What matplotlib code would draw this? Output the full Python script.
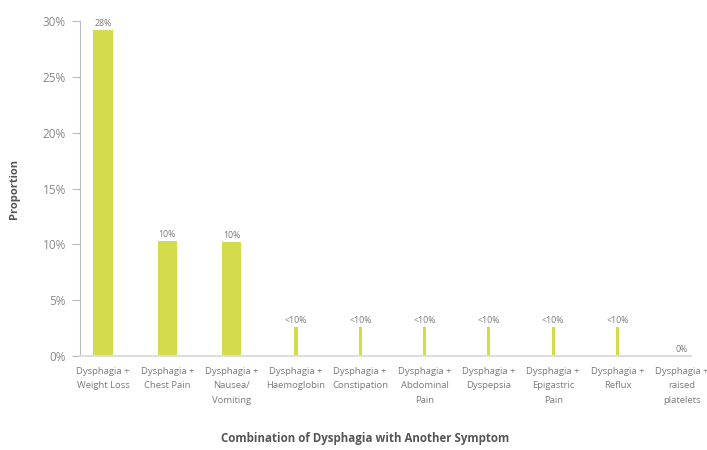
import numpy as np
import matplotlib.pyplot as plt

categories = ['Dysphagia +\nWeight Loss', 'Dysphagia +\nChest Pain', 'Dysphagia +\nNausea/\nVomiting',
              'Dysphagia +\nHaemoglobin', 'Dysphagia +\nConstipation', 'Dysphagia +\nAbdominal\nPain',
              'Dysphagia +\nDyspepsia', 'Dysphagia +\nEpigastric\nPain', 'Dysphagia +\nReflux',
              'Dysphagia +\nraised\nplatelets']
values = [29.2, 10.3, 10.2, 2.6, 2.6, 2.6, 2.6, 2.6, 2.6, 0.0]
labels = ['28%', '10%', '10%', '<10%', '<10%', '<10%', '<10%', '<10%', '<10%', '0%']
widths = [0.3, 0.3, 0.3, 0.05, 0.05, 0.05, 0.05, 0.05, 0.05, 0.05]

plt.rcParams['font.family'] = ['Open Sans', 'DejaVu Sans']
grey = '#7a7a7a'

fig = plt.figure(figsize=(7.07, 4.5), dpi=100)
ax = fig.add_axes([0.113, 0.209, 0.864, 0.744])
x = np.arange(len(categories))
ax.bar(x, values, width=widths, color='#d4dc4e')
for xi, v, lab in zip(x, values, labels):
    ax.text(xi, v + 0.2, lab, ha='center', va='bottom', fontsize=6.3, color=grey)

ax.set_xlim(-0.36, 9.14)
ax.set_ylim(0, 30)
ax.set_yticks(np.arange(0, 31, 5))
ax.set_yticklabels([f'{t}%' for t in range(0, 31, 5)], fontsize=8.5, color='#8a8a8a')
ax.set_xticks(x)
ax.set_xticklabels(categories, fontsize=6.8, color=grey, linespacing=1.75)
ax.tick_params(axis='x', length=0, pad=8)
ax.tick_params(axis='y', length=6, color='#bbbbbb', pad=4)
for s in ['top', 'right']:
    ax.spines[s].set_visible(False)
ax.spines['left'].set_color('#bbbbbb')
ax.spines['bottom'].set_color('#dddddd')
ax.spines['bottom'].set_linewidth(1.5)

fig.text(0.02, 0.58, 'Proportion', rotation=90, ha='center', va='center',
         fontsize=8, fontweight='bold', color='#555555')
fig.text(0.516, 0.012, 'Combination of Dysphagia with Another Symptom', ha='center', va='bottom',
         fontsize=8.3, fontweight='bold', color='#555555')

plt.savefig('out.png', dpi=100)
